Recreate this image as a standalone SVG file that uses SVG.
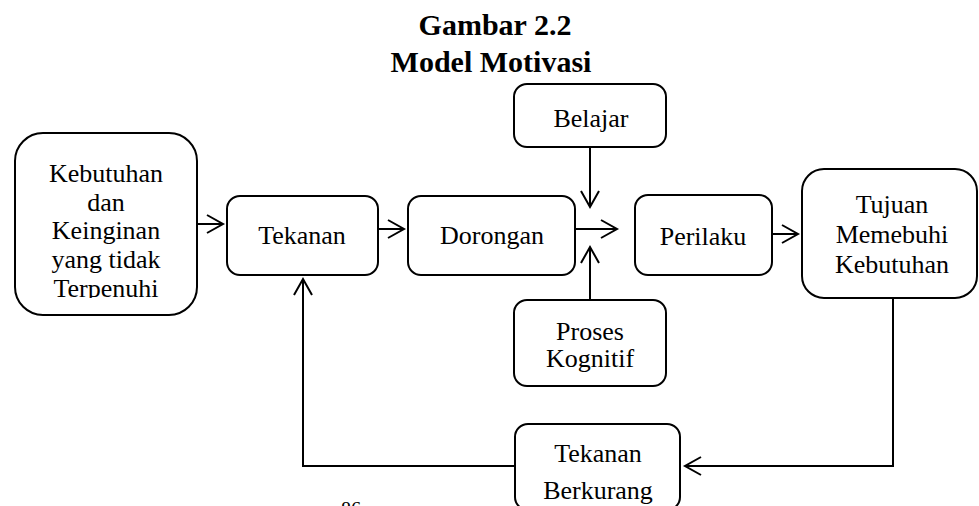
<svg xmlns="http://www.w3.org/2000/svg" width="979" height="506" viewBox="0 0 979 506">
  <style>
    .box { fill: #ffffff; stroke: #000000; stroke-width: 2; }
    .lbl { font-family: "Liberation Serif", "Times New Roman", serif; font-size: 26px; fill: #000000; text-anchor: middle; }
    .title { font-family: "Liberation Serif", "Times New Roman", serif; font-size: 30px; font-weight: bold; fill: #000000; text-anchor: middle; }
    .page { font-family: "Liberation Serif", "Times New Roman", serif; font-size: 20px; fill: #000000; }
    .link { fill: none; stroke: #000000; stroke-width: 2; marker-end: url(#open-arrow); }
  </style>
  <defs>
    <marker id="open-arrow" markerUnits="userSpaceOnUse" markerWidth="22" markerHeight="22" refX="19" refY="11" orient="auto" overflow="visible">
      <path d="M3,2 L19,11 L3,20" fill="none" stroke="#000000" stroke-width="2"/>
    </marker>
    <!-- text frame clips the last line of the tall left label -->
    <clipPath id="clip-needs"><rect x="15" y="130" width="182" height="168"/></clipPath>
  </defs>

  <rect width="979" height="506" fill="#ffffff"/>

  <g id="title">
    <text class="title" x="495" y="35">Gambar 2.2</text>
    <text class="title" x="491" y="72">Model Motivasi</text>
  </g>

  <g id="connectors">
    <path class="link" d="M197,224 H223"/>
    <path class="link" d="M378,229 H404"/>
    <path class="link" d="M575,229 H617"/>
    <path class="link" d="M590,147 V207"/>
    <path class="link" d="M590,300 V247"/>
    <path class="link" d="M772,234 H798"/>
    <path class="link" d="M893,298 V466 H685"/>
    <path class="link" d="M515,466 H303 V279"/>
  </g>

  <g id="kebutuhan">
    <rect class="box" x="15" y="133" width="182" height="182" rx="28"/>
    <g clip-path="url(#clip-needs)">
      <text class="lbl" x="106" y="182">Kebutuhan</text>
      <text class="lbl" x="106" y="211">dan</text>
      <text class="lbl" x="106" y="239">Keinginan</text>
      <text class="lbl" x="106" y="268">yang tidak</text>
      <text class="lbl" x="106" y="297">Terpenuhi</text>
    </g>
  </g>

  <g id="tekanan">
    <rect class="box" x="227" y="196" width="151" height="79" rx="13"/>
    <text class="lbl" x="302" y="244">Tekanan</text>
  </g>

  <g id="dorongan">
    <rect class="box" x="408" y="196" width="167" height="79" rx="13"/>
    <text class="lbl" x="492" y="244">Dorongan</text>
  </g>

  <g id="belajar">
    <rect class="box" x="514" y="84" width="152" height="63" rx="13"/>
    <text class="lbl" x="591" y="127">Belajar</text>
  </g>

  <g id="proses-kognitif">
    <rect class="box" x="514" y="300" width="152" height="86" rx="13"/>
    <text class="lbl" x="590" y="340">Proses</text>
    <text class="lbl" x="590" y="367">Kognitif</text>
  </g>

  <g id="perilaku">
    <rect class="box" x="635" y="195" width="137" height="80" rx="13"/>
    <text class="lbl" x="703" y="245">Perilaku</text>
  </g>

  <g id="tujuan">
    <rect class="box" x="802" y="169" width="175" height="129" rx="22"/>
    <text class="lbl" x="892" y="213">Tujuan</text>
    <text class="lbl" x="892" y="243">Memebuhi</text>
    <text class="lbl" x="892" y="273">Kebutuhan</text>
  </g>

  <g id="tekanan-berkurang">
    <rect class="box" x="515" y="424" width="165" height="86" rx="13"/>
    <text class="lbl" x="598" y="462">Tekanan</text>
    <text class="lbl" x="598" y="499">Berkurang</text>
  </g>

  <g id="page-number">
    <text class="page" x="341" y="516">86</text>
  </g>
</svg>
